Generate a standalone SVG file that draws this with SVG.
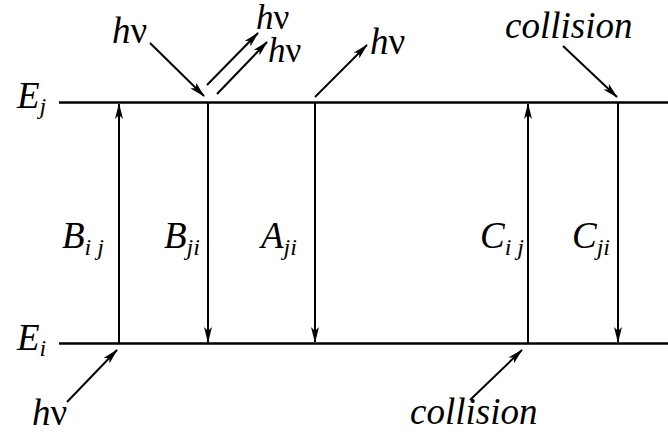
<svg xmlns="http://www.w3.org/2000/svg" width="668" height="432" viewBox="0 0 668 432">
<style>
.lvl{stroke:#000;stroke-width:2.5;fill:none}
.ar{stroke:#000;stroke-width:2;fill:none;marker-end:url(#ah)}
</style>
<defs>
<marker id="ah" viewBox="0 0 16 8" refX="15" refY="4" markerWidth="16" markerHeight="8" markerUnits="userSpaceOnUse" orient="auto">
<path d="M0,0 L16,4 L0,8 L4,4 z" fill="#000"/>
</marker>
</defs>
<g id="levels">
<line class="lvl" x1="59" y1="102.5" x2="668" y2="102.5"/>
<line class="lvl" x1="59" y1="343.5" x2="668" y2="343.5"/>
</g>
<g font-family="Liberation Serif, Times New Roman, serif" font-size="37" fill="#000">
<g id="level-labels" font-style="italic">
<text x="17" y="108">E<tspan font-size="24" dy="6">j</tspan></text>
<text x="17" y="350">E<tspan font-size="24" dy="6">i</tspan></text>
</g>
<g id="Bij" font-style="italic"><text x="62" y="248">B<tspan font-size="24" dy="7">i j</tspan></text></g>
<g id="Bji" font-style="italic"><text x="164" y="248">B<tspan font-size="24" dy="7">ji</tspan></text></g>
<g id="Aji" font-style="italic"><text x="261" y="248">A<tspan font-size="24" dy="7">ji</tspan></text></g>
<g id="Cij" font-style="italic"><text x="480" y="248">C<tspan font-size="24" dy="7">i j</tspan></text></g>
<g id="Cji" font-style="italic"><text x="572" y="248">C<tspan font-size="24" dy="7">ji</tspan></text></g>
<g id="hv-in"><text x="112" y="43"><tspan font-style="italic">h</tspan>ν</text></g>
<g id="hv-out1"><text x="256" y="29" font-size="35"><tspan font-style="italic">h</tspan>ν</text></g>
<g id="hv-out2"><text x="268" y="62" font-size="35"><tspan font-style="italic">h</tspan>ν</text></g>
<g id="hv-out3"><text x="370" y="54"><tspan font-style="italic">h</tspan>ν</text></g>
<g id="hv-abs"><text x="32" y="425"><tspan font-style="italic">h</tspan>ν</text></g>
<g id="collision-top" font-style="italic"><text x="505" y="38">collision</text></g>
<g id="collision-bottom" font-style="italic"><text x="410" y="424">collision</text></g>
</g>
<g id="connectors">
<line class="ar" x1="119" y1="343" x2="119" y2="104"/>
<line class="ar" x1="208" y1="103" x2="208" y2="342"/>
<line class="ar" x1="315" y1="103" x2="315" y2="342"/>
<line class="ar" x1="528" y1="343" x2="528" y2="104"/>
<line class="ar" x1="618" y1="103" x2="618" y2="342"/>
<line class="ar" x1="150" y1="43" x2="204" y2="96"/>
<line class="ar" x1="207" y1="85" x2="258" y2="33"/>
<line class="ar" x1="217" y1="94" x2="267" y2="42"/>
<line class="ar" x1="315" y1="97" x2="367" y2="45"/>
<line class="ar" x1="563" y1="46" x2="617" y2="97"/>
<line class="ar" x1="67" y1="402" x2="117" y2="350"/>
<line class="ar" x1="470" y1="400" x2="522" y2="350"/>
</g>
</svg>
